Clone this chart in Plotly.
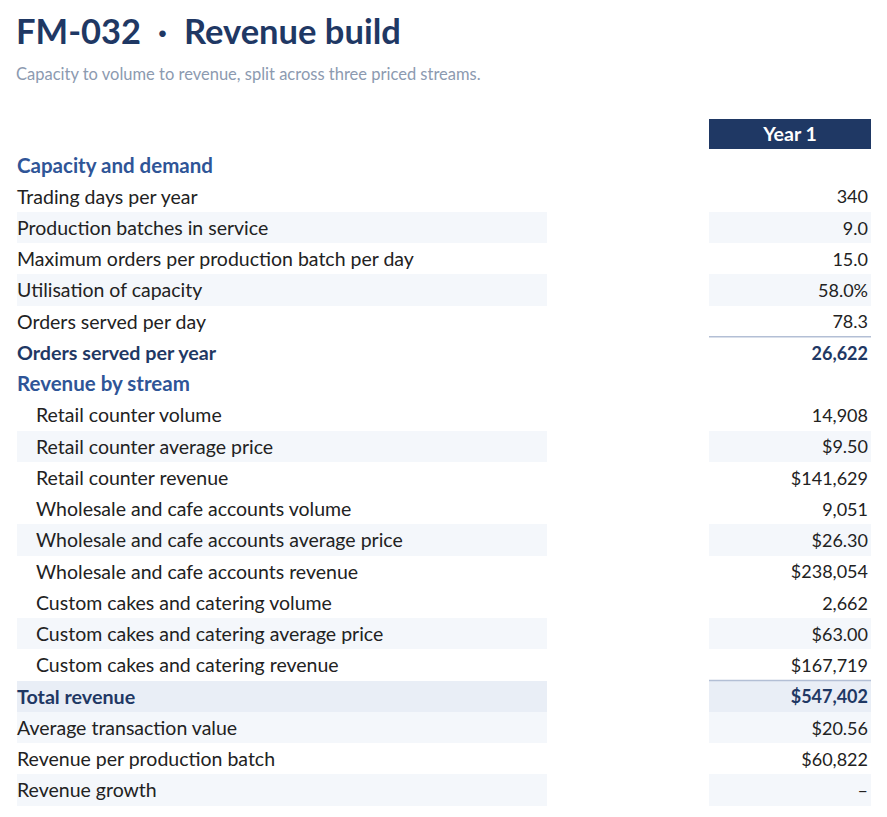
import plotly.graph_objects as go

# ---------- data
labels = [
    "Capacity and demand",
    "Trading days per year",
    "Production batches in service",
    "Maximum orders per production batch per day",
    "Utilisation of capacity",
    "Orders served per day",
    "Orders served per year",
    "Revenue by stream",
    "Retail counter volume",
    "Retail counter average price",
    "Retail counter revenue",
    "Wholesale and cafe accounts volume",
    "Wholesale and cafe accounts average price",
    "Wholesale and cafe accounts revenue",
    "Custom cakes and catering volume",
    "Custom cakes and catering average price",
    "Custom cakes and catering revenue",
    "Total revenue",
    "Average transaction value",
    "Revenue per production batch",
    "Revenue growth",
]
values = [
    "", "340", "9.0", "15.0", "58.0%", "78.3", "26,622",
    "", "14,908", "$9.50", "$141,629", "9,051", "$26.30", "$238,054",
    "2,662", "$63.00", "$167,719", "$547,402", "$20.56", "$60,822", "–",
]
# section / item / sub / total
kinds = [
    "section", "item", "item", "item", "item", "item", "total",
    "section", "sub", "sub", "sub", "sub", "sub", "sub", "sub", "sub", "sub",
    "total", "item", "item", "item",
]
shaded = [2, 4, 9, 12, 15, 18, 20]
total_shaded = [17]
ruled = [6, 17]
column = "Year 1"
title = "FM-032  ·  Revenue build"
subtitle = "Capacity to volume to revenue, split across three priced streams."

NAVY = "#1f3864"
BLUE = "#2f5597"
TEXT = "#222222"
SHADE = "#f4f7fb"
SHADE2 = "#e9eef6"
RULE = "#b3bfd5"
FONT = "Lato"

W, H = 887, 817
OFF = 8          # page body margin
ROW = 31.25      # pixel height of one row
TOP = 165        # centre of the first row on the page
NUDGE = 0.08     # text sits a touch below the row centre

LX0, LX1 = 17, 547
VX0, VX1 = 709, 871

rows = list(range(len(labels)))
fig = go.Figure()

# row shading: label band and value band
for ys, col in ((shaded, SHADE), (total_shaded, SHADE2)):
    for x0, x1 in ((LX0, LX1), (VX0, VX1)):
        fig.add_trace(go.Bar(
            y=ys, x=[x1 - x0] * len(ys), base=x0, orientation="h",
            width=1, marker=dict(color=col, line=dict(width=0)),
            hoverinfo="skip", showlegend=False,
        ))

# column header box
fig.add_trace(go.Bar(
    y=[-1], x=[VX1 - VX0], base=VX0, orientation="h", width=0.96,
    marker=dict(color=NAVY, line=dict(width=0)),
    hoverinfo="skip", showlegend=False,
))
fig.add_trace(go.Scatter(
    x=[(VX0 + VX1) / 2], y=[-1 + NUDGE], mode="text", text=[column],
    textposition="middle center",
    textfont=dict(family=FONT, size=19.5, color="white", weight="bold"),
    hoverinfo="skip", showlegend=False,
))

# rules above totals
for r in ruled:
    fig.add_shape(type="line", xref="x", yref="y", x0=VX0, x1=VX1,
                  y0=r - 0.5, y1=r - 0.5, line=dict(color=RULE, width=1.5))

styles = {
    "section": dict(color=BLUE, weight="bold", indent=LX0, size=20.5),
    "item": dict(color=TEXT, weight="normal", indent=LX0, size=19.5),
    "sub": dict(color=TEXT, weight="normal", indent=36, size=19.5),
    "total": dict(color=NAVY, weight="bold", indent=LX0, size=19.7),
}
for kind, st in styles.items():
    idx = [i for i in rows if kinds[i] == kind]
    fig.add_trace(go.Scatter(
        x=[st["indent"]] * len(idx), y=[i + NUDGE for i in idx], mode="text",
        text=[labels[i] for i in idx], textposition="middle right",
        textfont=dict(family=FONT, size=st["size"], color=st["color"], weight=st["weight"]),
        hoverinfo="skip", showlegend=False,
    ))
    vidx = [i for i in idx if values[i]]
    if vidx:
        fig.add_trace(go.Scatter(
            x=[868] * len(vidx), y=[i + NUDGE for i in vidx], mode="text",
            text=[values[i] for i in vidx], textposition="middle left",
            textfont=dict(family=FONT, size=18, color=st["color"], weight=st["weight"]),
            hoverinfo="skip", showlegend=False,
        ))

fig.add_annotation(text="<b>" + title + "</b>", xref="paper", yref="paper",
                   x=(14 - OFF) / W, y=1 - (30 - OFF) / H, xanchor="left", yanchor="middle",
                   showarrow=False, font=dict(family=FONT, size=34.5, color=NAVY))
fig.add_annotation(text=subtitle, xref="paper", yref="paper",
                   x=(14 - OFF) / W, y=1 - (74 - OFF) / H, xanchor="left", yanchor="middle",
                   showarrow=False, font=dict(family=FONT, size=16.5, color="#8c9ab0"))

fig.update_layout(
    width=W, height=H,
    margin=dict(l=0, r=0, t=0, b=0),
    paper_bgcolor="white", plot_bgcolor="white",
    barmode="overlay", bargap=0,
    xaxis=dict(range=[OFF, W + OFF], visible=False, fixedrange=True),
    yaxis=dict(range=[(H + OFF - TOP) / ROW, (OFF - TOP) / ROW],
               visible=False, fixedrange=True),
)

fig.write_html("out.html")
